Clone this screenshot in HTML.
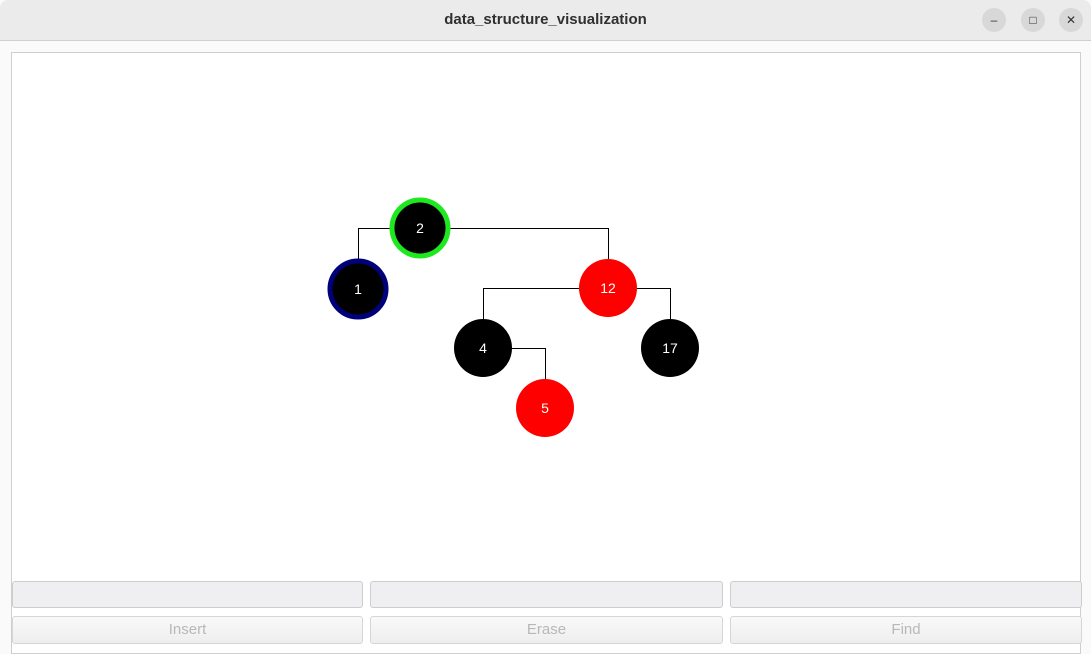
<!DOCTYPE html>
<html><head><style>
body{margin:0;width:1091px;height:652px;overflow:hidden;background:#fafafa;font-family:"Liberation Sans",sans-serif;position:relative}
.title{position:absolute;left:0;top:0;width:1091px;height:40px;background:#ebebeb;border-bottom:1px solid #cfcfcf;border-radius:8px 8px 0 0}
.title span{position:absolute;left:0;right:0;top:11px;text-align:center;font-weight:bold;font-size:15px;color:#303030}
.wb{position:absolute;top:8px;width:24px;height:24px;border-radius:50%;background:#d8d8d8;font-size:12px;text-align:center;line-height:24px;color:#333}
.canvas{position:absolute;left:11px;top:52px;width:1068px;height:600px;border:1px solid #cfcfcf;background:#fff}
.in{position:absolute;top:581px;height:25px;border:1px solid #cdcdcd;border-radius:3px;background:#efeef0}
.bt{position:absolute;top:616px;height:26px;border:1px solid #d6d6d6;border-radius:3px;background:linear-gradient(#f9f9f9,#eeeeee);color:#b8b8b8;font-size:15px;text-align:center;line-height:26px}
</style></head><body>
<div class="title"><span>data_structure_visualization</span>
<div class="wb" style="left:982px">–</div><div class="wb" style="left:1021px">□</div><div class="wb" style="left:1059px">✕</div></div>
<div class="canvas"></div>
<svg style="position:absolute;left:0;top:0" width="1091" height="652">
<g stroke="#000" stroke-width="1" fill="none">
<path d="M358.5 289V228.5H608.5V289"/>
<path d="M483.5 349V288.5H670.5V349"/>
<path d="M483.5 348.5H545.5V409"/>
</g>
<circle cx="420" cy="228" r="28" fill="#000" stroke="#1ee81e" stroke-width="5"/>
<circle cx="358" cy="289" r="28" fill="#000" stroke="#00007a" stroke-width="5"/>
<circle cx="608" cy="288" r="29" fill="#f00"/>
<circle cx="483" cy="348" r="29" fill="#000"/>
<circle cx="670" cy="348" r="29" fill="#000"/>
<circle cx="545" cy="408" r="29" fill="#f00"/>
<g fill="#fff" font-size="14" font-family="Liberation Sans,sans-serif" text-anchor="middle">
<text x="420" y="233">2</text><text x="358" y="294">1</text><text x="608" y="293">12</text>
<text x="483" y="353">4</text><text x="670" y="353">17</text><text x="545" y="413">5</text>
</g></svg>
<div class="in" style="left:12px;width:349px"></div>
<div class="in" style="left:370px;width:351px"></div>
<div class="in" style="left:730px;width:350px"></div>
<div class="bt" style="left:12px;width:349px">Insert</div>
<div class="bt" style="left:370px;width:351px">Erase</div>
<div class="bt" style="left:730px;width:350px">Find</div>
</body></html>
